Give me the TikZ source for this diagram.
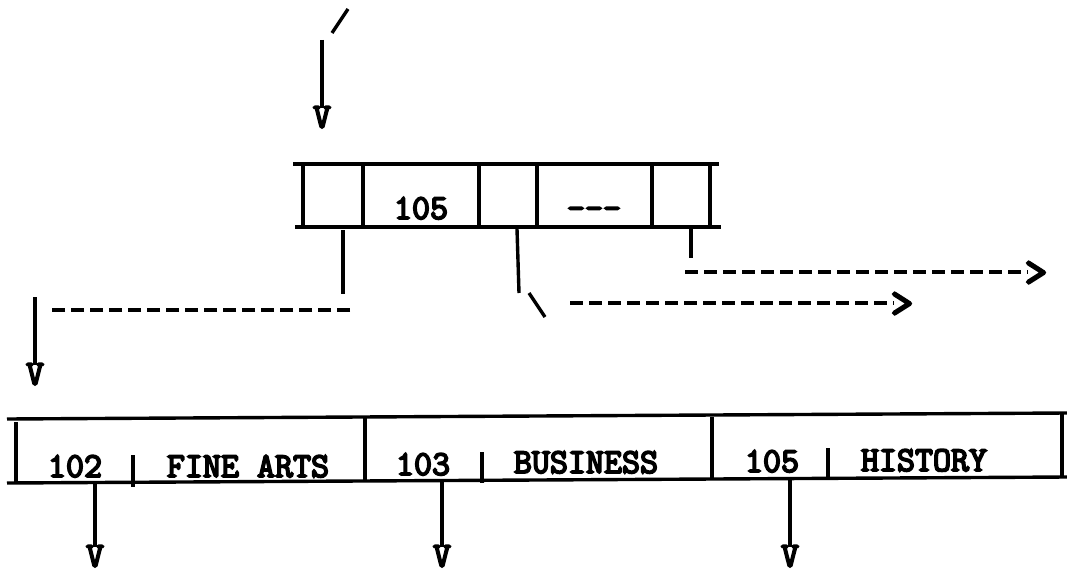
\documentclass[tikz,border=0pt]{standalone}
\usepackage{fontspec}
\newfontfamily\tw{Latin Modern Mono}[FakeBold=5]
\begin{document}
\begin{tikzpicture}[x=1pt,y=-1pt, line width=3.4pt, line cap=butt,
  tfont/.style={font=\tw\fontsize{35}{35}\selectfont},
  txt/.style={tfont, inner sep=0pt, anchor=base},
  vtip/.style={tfont, inner sep=0pt, text height=20pt, text depth=0pt, anchor=north},
  rtip/.style={font=\tw\fontsize{44}{44}\selectfont, inner sep=0pt, anchor=base west},
  dsh/.style={dash pattern=on 13pt off 6pt, line width=3.4pt}]
\useasboundingbox (0,0) rectangle (1067,575);

% ---------- top entry arrow ----------
\coordinate (s1) at (332,33);
\coordinate (s2) at (348,9);
\draw (s1) -- (s2);
\coordinate (a0) at (322,40);
\node[vtip] (v0) at (322,106) {V};
\draw (a0) -- ([yshift=-2pt]v0.north);

% ---------- top node box ----------
\coordinate (tl) at (293,164); \coordinate (tr) at (719,164);
\coordinate (bl) at (295,227); \coordinate (br) at (721,227);
\draw (tl) -- (tr);
\draw (bl) -- (br);
\foreach \x [count=\i] in {303,363,479,537,652,710}{
  \coordinate (ct\i) at (\x,166);
  \coordinate (cb\i) at (\x,228);
  \draw (ct\i) -- (cb\i);
}
\node[txt] (k105) at (421,219) {105};
\node[txt] (kdots) at (594,219) {-\kern0pt-\kern0pt-};

% ---------- pointers leaving the box ----------
\coordinate (p1a) at (343,230); \coordinate (p1b) at (343,294);
\draw (p1a) -- (p1b);
\coordinate (d1a) at (350,310); \coordinate (d1b) at (47,310);
\draw[dsh] (d1a) -- (d1b);
\coordinate (p1c) at (35,297);
\node[vtip] (v1) at (35,363) {V};
\draw (p1c) -- ([yshift=-2pt]v1.north);

\coordinate (p2a) at (517,229); \coordinate (p2b) at (519,293);
\draw (p2a) -- (p2b);
\coordinate (bs1) at (529,293); \coordinate (bs2) at (545,317);
\draw (bs1) -- (bs2);
\coordinate (d2a) at (570,303);
\node[rtip] (r2) at (889,317) {>};
\draw[dsh] (d2a) -- ([xshift=5pt]r2.west |- d2a);

\coordinate (p3a) at (691,228); \coordinate (p3b) at (691,258);
\draw (p3a) -- (p3b);
\coordinate (d3a) at (685,272);
\node[rtip] (r3) at (1023,286) {>};
\draw[dsh] (d3a) -- ([xshift=5pt]r3.west |- d3a);

% ---------- bottom table ----------
\coordinate (Tl) at (7,419); \coordinate (Tr) at (1067,413);
\coordinate (Bl) at (7,483); \coordinate (Br) at (1067,477);
\draw (Tl) -- (Tr);
\draw (Bl) -- (Br);
\draw (16,422) -- (16,483);
\draw (365,418) -- (365,481);
\draw (712,417) -- (712,480);
\draw (1062,413) -- (1062,478);
\draw (133,455) -- (133,487);
\draw (482,452) -- (482,483);
\draw (828,448) -- (828,480);

\node[txt] (n102) at (75,477) {102};
\node[txt] (fa) at (248,477) {FINE ARTS};
\node[txt] (n103) at (423,475) {103};
\node[txt] (bu) at (586,473) {BUSINESS};
\node[txt] (n105) at (772,472) {105};
\node[txt] (hi) at (924,471) {HISTORY};

\coordinate (q1) at (95,483);
\node[vtip] (w1) at (95,545) {V};
\draw (q1) -- ([yshift=-2pt]w1.north);
\coordinate (q2) at (442,481);
\node[vtip] (w2) at (442,545) {V};
\draw (q2) -- ([yshift=-2pt]w2.north);
\coordinate (q3) at (790,478);
\node[vtip] (w3) at (790,545) {V};
\draw (q3) -- ([yshift=-2pt]w3.north);
\end{tikzpicture}
\end{document}
